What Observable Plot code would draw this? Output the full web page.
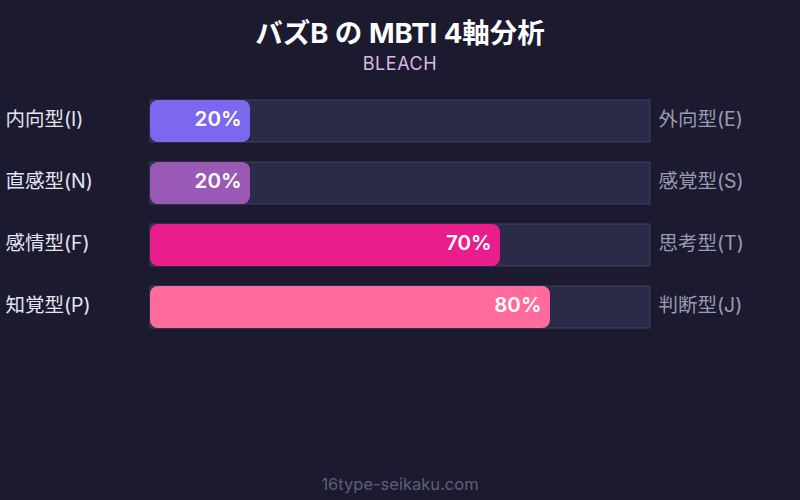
<!DOCTYPE html>
<html><head><meta charset="utf-8">
<script src="https://cdn.jsdelivr.net/npm/d3@7"></script>
<script src="https://cdn.jsdelivr.net/npm/@observablehq/plot@0.6"></script>
<style>
html,body{margin:0;padding:0;background:#1b1a2e;width:800px;height:500px;overflow:hidden;font-family:Inter,"Noto Sans CJK JP",sans-serif;}
#title{position:absolute;top:15px;left:0;width:800px;text-align:center;color:#ffffff;font-size:27.5px;font-weight:700;line-height:36px;}
#sub{position:absolute;top:53px;left:0;width:800px;text-align:center;color:#dcb8e8;font-size:18px;letter-spacing:0.6px;line-height:22px;}
#chart{position:absolute;top:80px;left:0;}
#foot{position:absolute;top:474px;left:0;width:800px;text-align:center;color:#5f5f78;font-size:16.5px;line-height:20px;}
</style></head><body>
<div id="title">バズB の MBTI 4軸分析</div>
<div id="sub">BLEACH</div>
<div id="chart"></div>
<div id="foot">16type-seikaku.com</div>
<script>
const leftLabels = ["内向型(I)", "直感型(N)", "感情型(F)", "知覚型(P)"];
const rightLabels = ["外向型(E)", "感覚型(S)", "思考型(T)", "判断型(J)"];
const values = [20, 20, 70, 80];
const colors = ["#7b68ee", "#9b59b6", "#e91e8c", "#ff6b9d"];

const rows = leftLabels.map((l, i) => ({left: l, right: rightLabels[i], value: values[i], color: colors[i]}));

const chart = Plot.plot({
  width: 800,
  height: 300,
  marginLeft: 150,
  marginRight: 150,
  marginTop: 0,
  marginBottom: 0,
  style: {background: "transparent", fontFamily: 'Inter,"Noto Sans CJK JP",sans-serif'},
  x: {domain: [0, 100], axis: null},
  y: {domain: leftLabels, range: [10, 258], paddingInner: 20/62, paddingOuter: 10/62, axis: null},
  marks: [
    Plot.barX(rows, {y: "left", x1: 0, x2: 100, fill: "#2c2a49", stroke: "#403e62", strokeWidth: 1}),
    Plot.barX(rows, {y: "left", x1: 0, x2: "value", fill: "color", rx: 8}),
    Plot.text(rows, {y: "left", x: "value", text: d => d.value + "%", dx: -9, dy: -2, textAnchor: "end", fill: "#ffffff", fontSize: 20.5, fontWeight: 600}),
    Plot.text(rows, {y: "left", x: 0, text: "left", dx: -145, dy: -2, textAnchor: "start", fill: "#e4e4f2", fontSize: 19.5}),
    Plot.text(rows, {y: "left", x: 100, text: "right", dx: 8, dy: -2, textAnchor: "start", fill: "#9a9ab2", fontSize: 19.5})
  ]
});
document.getElementById("chart").appendChild(chart);
</script>
</body></html>
